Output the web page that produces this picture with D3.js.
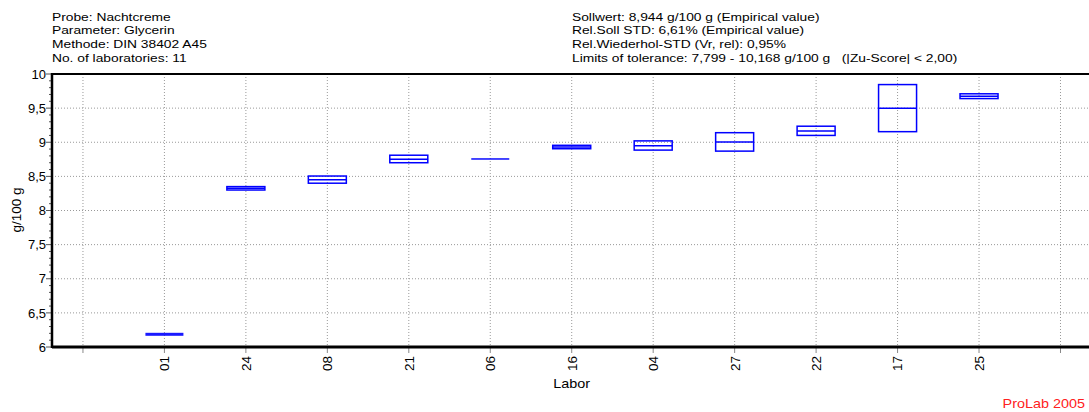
<!DOCTYPE html>
<html><head><meta charset="utf-8">
<script src="https://cdn.jsdelivr.net/npm/d3@7/dist/d3.min.js"></script>
<style>
body{margin:0;background:#fff;}
text{font-family:"Liberation Sans",Arial,sans-serif;fill:#000;white-space:pre;}
</style></head>
<body>
<svg id="c" width="1089" height="412"></svg>
<script>
// ---- data ----
const labs = ["01","24","08","21","06","16","04","27","22","17","25"];
const lowVals = [6.178, 8.300, 8.400, 8.700, 8.755, 8.905, 8.885, 8.870, 9.100, 9.155, 9.640];
const medVals = [6.186, 8.325, 8.450, 8.750, 8.755, 8.930, 8.950, 9.005, 9.165, 9.500, 9.675];
const highVals = [6.195, 8.350, 8.505, 8.810, 8.760, 8.955, 9.020, 9.140, 9.235, 9.845, 9.710];
const yTicks = [6, 6.5, 7, 7.5, 8, 8.5, 9, 9.5, 10];
const headerLeft = ["Probe: Nachtcreme", "Parameter: Glycerin", "Methode: DIN 38402 A45", "No. of laboratories: 11"];
const headerRight = ["Sollwert: 8,944 g/100 g (Empirical value)", "Rel.Soll STD: 6,61% (Empirical value)", "Rel.Wiederhol-STD (Vr, rel): 0,95%", "Limits of tolerance: 7,799 - 10,168 g/100 g   (|Zu-Score| < 2,00)"];
const yTitle = "g/100 g";
const xTitle = "Labor";
const credit = "ProLab 2005";

// ---- layout ----
const svg = d3.select("#c");
const L = 52, R = 1089, T = 74, B = 347;
const x = d3.scaleLinear().domain([-1.38, 11.35]).range([L, R]);
const y = d3.scaleLinear().domain([6, 10]).range([B, T]);
const fmt = v => String(v).replace(".", ",");
const sx = 1.2;

// header
function header(lines, x0) {
  lines.forEach((t, i) => {
    svg.append("text")
      .attr("transform", `translate(${x0},${20.5 + i * 13.8}) scale(${sx},1)`)
      .attr("font-size", 11.5).text(t);
  });
}
header(headerLeft, 52);
header(headerRight, 572);

// grid
const gridX = d3.range(-1, 12);
svg.append("g").selectAll("line").data(gridX).join("line")
  .attr("x1", d => x(d)).attr("x2", d => x(d)).attr("y1", T).attr("y2", B)
  .attr("stroke", "#999").attr("stroke-width", 1).attr("stroke-dasharray", "1,2");
svg.append("g").selectAll("line").data(yTicks.filter(v => v > 6 && v < 10)).join("line")
  .attr("x1", L).attr("x2", R).attr("y1", d => y(d)).attr("y2", d => y(d))
  .attr("stroke", "#999").attr("stroke-width", 1).attr("stroke-dasharray", "1,2");

// x ticks below axis
svg.append("g").selectAll("line").data(gridX).join("line")
  .attr("x1", d => x(d)).attr("x2", d => x(d)).attr("y1", B).attr("y2", B + 6)
  .attr("stroke", "#888").attr("stroke-width", 1);

// y axis minor/major ticks
const minor = d3.range(60, 101).map(v => v / 10);
svg.append("g").selectAll("line").data(minor).join("line")
  .attr("x1", d => yTicks.includes(d) ? L - 6 : L - 3).attr("x2", L)
  .attr("y1", d => y(d)).attr("y2", d => y(d))
  .attr("stroke", "#555").attr("stroke-width", 1);
svg.append("g").selectAll("text").data(yTicks).join("text")
  .attr("x", L - 6).attr("y", d => y(d)).attr("dy", "0.36em")
  .attr("text-anchor", "end").attr("font-size", 13).text(fmt);

// boxes
const data = labs.map((l, i) => ({l, i, lo: lowVals[i], me: medVals[i], hi: highVals[i]}));
const bw = 38;
const g = svg.append("g");
data.forEach(d => {
  const cx = x(d.i);
  if (d.hi - d.lo < 0.03) {
    const h = Math.max(d.l === "06" ? 1.6 : 3, y(d.lo) - y(d.hi));
    g.append("rect").attr("x", cx - bw / 2).attr("width", bw)
      .attr("y", y(d.me) - h / 2).attr("height", h)
      .attr("fill", "#0000ff").attr("opacity", 0.9);
  } else {
    g.append("rect").attr("x", cx - bw / 2).attr("width", bw)
      .attr("y", y(d.hi)).attr("height", y(d.lo) - y(d.hi))
      .attr("fill", "none").attr("stroke", "#0000ff").attr("stroke-width", 1.5);
    g.append("line").attr("x1", cx - bw / 2).attr("x2", cx + bw / 2)
      .attr("y1", y(d.me)).attr("y2", y(d.me))
      .attr("stroke", "#0000ff").attr("stroke-width", 1.5);
  }
});

// axis lines
svg.append("line").attr("x1", L).attr("x2", R).attr("y1", T).attr("y2", T).attr("stroke", "#000").attr("stroke-width", 2);
svg.append("line").attr("x1", L).attr("x2", R).attr("y1", B).attr("y2", B).attr("stroke", "#000").attr("stroke-width", 3);
svg.append("line").attr("x1", L).attr("x2", L).attr("y1", T - 1).attr("y2", B + 1).attr("stroke", "#000").attr("stroke-width", 2.5);

// x labels
svg.append("g").selectAll("text").data(data).join("text")
  .attr("transform", d => `translate(${x(d.i)},${356}) rotate(-90)`)
  .attr("dy", "0.36em").attr("text-anchor", "end").attr("font-size", 13.5).text(d => d.l);

// titles
svg.append("text").attr("transform", `translate(${x(5)},${388}) scale(${sx},1)`)
  .attr("text-anchor", "middle").attr("font-size", 12).text(xTitle);
svg.append("text").attr("transform", `translate(21,210) rotate(-90)`)
  .attr("text-anchor", "middle").attr("font-size", 13.5).text(yTitle);
svg.append("text").attr("transform", `translate(1085,408) scale(${sx},1)`)
  .attr("text-anchor", "end").attr("font-size", 12).style("fill", "#ff2020").text(credit);
</script>
</body></html>
